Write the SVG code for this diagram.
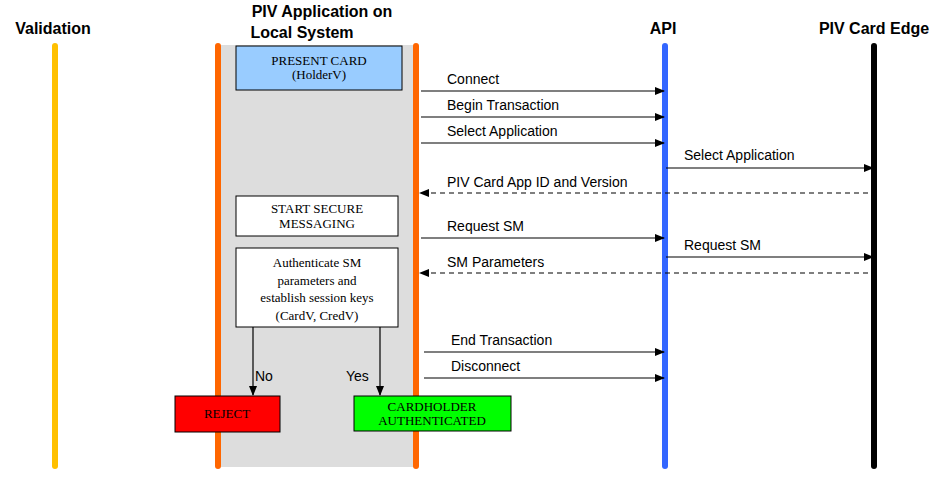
<svg xmlns="http://www.w3.org/2000/svg" width="938" height="502" viewBox="0 0 938 502">
<style>
.h{font-family:"Liberation Sans",Arial,sans-serif;font-weight:bold;font-size:16px;fill:#000}
.l{font-family:"Liberation Sans",Arial,sans-serif;font-size:14px;fill:#000}
.b{font-family:"Liberation Serif","Times New Roman",serif;font-size:13px;fill:#000;text-anchor:middle}
.box{stroke:#000;stroke-width:1}
.c{stroke:#000;stroke-width:1.2;fill:none}
.d{stroke:#000;stroke-width:1.2;stroke-dasharray:5,4;fill:none}
</style>
<defs>
<marker id="a" markerWidth="10" markerHeight="8" refX="9" refY="4" orient="auto" markerUnits="userSpaceOnUse"><path d="M0,0L10,4L0,8z" fill="#000"/></marker>
</defs>
<rect x="221" y="45" width="194" height="422" fill="#dddddd"/>
<g id="lifelines" stroke-linecap="round">
<line x1="55" y1="46" x2="55" y2="466" stroke="#ffc000" stroke-width="6"/>
<line x1="218" y1="46" x2="218" y2="466" stroke="#ff6600" stroke-width="6"/>
<line x1="416" y1="46" x2="416" y2="466" stroke="#ff6600" stroke-width="6"/>
<line x1="665" y1="46" x2="665" y2="466" stroke="#3366ff" stroke-width="6"/>
<line x1="874" y1="46" x2="874" y2="466" stroke="#000" stroke-width="6"/>
</g>
<g id="headers">
<text class="h" x="53" y="34" text-anchor="middle">Validation</text>
<text class="h" x="322" y="17" text-anchor="middle">PIV Application on</text>
<text class="h" x="302" y="38" text-anchor="middle">Local System</text>
<text class="h" x="663" y="34" text-anchor="middle">API</text>
<text class="h" x="874" y="34" text-anchor="middle">PIV Card Edge</text>
</g>
<g id="present"><rect class="box" x="236" y="46" width="166" height="44" fill="#99ccff"/><text class="b" x="319" y="65">PRESENT CARD</text><text class="b" x="319" y="79">(HolderV)</text></g>
<g id="startsm"><rect class="box" x="236" y="196" width="162" height="40" fill="#fff"/><text class="b" x="317" y="213">START SECURE</text><text class="b" x="317" y="228">MESSAGING</text></g>
<g id="auth"><rect class="box" x="236" y="248" width="162" height="79" fill="#fff"/><text class="b" x="317" y="267" font-size="14">Authenticate SM</text><text class="b" x="317" y="285" font-size="14">parameters and</text><text class="b" x="317" y="302" font-size="14">establish session keys</text><text class="b" x="317" y="320" font-size="14">(CardV, CredV)</text></g>
<g id="reject"><rect class="box" x="175" y="396" width="105" height="36" fill="#ff0000"/><text class="b" x="227" y="418">REJECT</text></g>
<g id="ok"><rect class="box" x="354" y="396" width="157" height="35" fill="#00ff00"/><text class="b" x="432" y="411">CARDHOLDER</text><text class="b" x="432" y="425">AUTHENTICATED</text></g>
<g id="connectors">
<path class="c" d="M421,91H664" marker-end="url(#a)"/>
<path class="c" d="M421,117H664" marker-end="url(#a)"/>
<path class="c" d="M421,143H664" marker-end="url(#a)"/>
<path class="c" d="M666,168H873" marker-end="url(#a)"/>
<path class="d" d="M868,193H420" marker-end="url(#a)"/>
<path class="c" d="M421,238H664" marker-end="url(#a)"/>
<path class="c" d="M666,257H873" marker-end="url(#a)"/>
<path class="d" d="M868,273H420" marker-end="url(#a)"/>
<path class="c" d="M424,352H664" marker-end="url(#a)"/>
<path class="c" d="M424,378H664" marker-end="url(#a)"/>
<path class="c" d="M253,327V395" marker-end="url(#a)"/>
<path class="c" d="M380,327V395" marker-end="url(#a)"/>
</g>
<g id="labels">
<text class="l" x="447" y="84">Connect</text>
<text class="l" x="447" y="110">Begin Transaction</text>
<text class="l" x="447" y="136">Select Application</text>
<text class="l" x="684" y="160">Select Application</text>
<text class="l" x="447" y="187">PIV Card App ID and Version</text>
<text class="l" x="447" y="231">Request SM</text>
<text class="l" x="684" y="250">Request SM</text>
<text class="l" x="447" y="267">SM Parameters</text>
<text class="l" x="451" y="345">End Transaction</text>
<text class="l" x="451" y="371">Disconnect</text>
<text class="l" x="255" y="381">No</text>
<text class="l" x="346" y="381">Yes</text>
</g>
</svg>
